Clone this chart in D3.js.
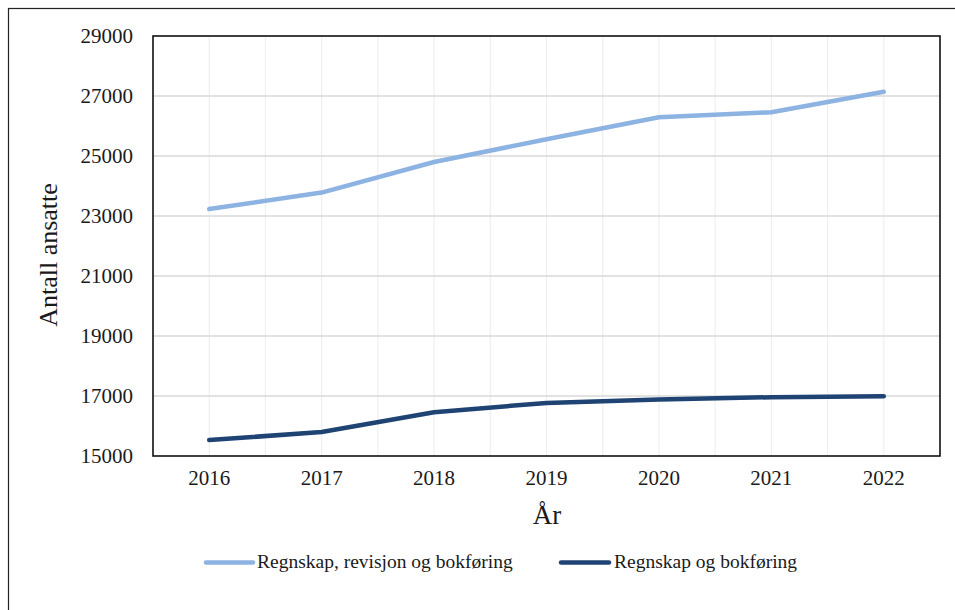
<!DOCTYPE html>
<html>
<head>
<meta charset="utf-8">
<script src="https://cdn.jsdelivr.net/npm/d3@7/dist/d3.min.js"></script>
<style>
  html, body { margin: 0; padding: 0; background: #fff; }
  svg { display: block; }
  svg text { font-family: 'Liberation Serif', 'Times New Roman', 'DejaVu Serif', serif !important; fill: #1a1a1a; }
</style>
</head>
<body>
<svg id="chart" width="955" height="610" font-family="'Liberation Serif', serif"></svg>
<script>
const years = ["2016", "2017", "2018", "2019", "2020", "2021", "2022"];
const seriesNames = ["Regnskap, revisjon og bokføring", "Regnskap og bokføring"];
const revisjonValues = [23230, 23780, 24800, 25560, 26290, 26460, 27140];
const bokforingValues = [15530, 15800, 16460, 16770, 16880, 16960, 16990];
const yTicks = [15000, 17000, 19000, 21000, 23000, 25000, 27000, 29000];
const colors = ["#8db3e2", "#1f4372"];

const FONT = "'Liberation Serif', 'Times New Roman', serif";
const svg = d3.select("#chart");
const W = 955, H = 610;
const plot = { left: 153, top: 36, right: 940, bottom: 456 };

// outer frame
svg.append("rect").attr("x", 8.5).attr("y", 8.5).attr("width", W).attr("height", H)
  .attr("fill", "none").attr("stroke", "#222").attr("stroke-width", 1.2);

const x = d3.scaleBand().domain(years).range([plot.left, plot.right]).padding(0);
const y = d3.scaleLinear().domain([15000, 29000]).range([plot.bottom, plot.top]);

// vertical grid lines: band edges and centers
const vgrid = [];
years.forEach((yr, i) => {
  if (i > 0) vgrid.push(x(yr));
  vgrid.push(x(yr) + x.bandwidth() / 2);
});
svg.append("g").selectAll("line").data(vgrid).join("line")
  .attr("x1", d => d).attr("x2", d => d)
  .attr("y1", plot.top).attr("y2", plot.bottom)
  .attr("stroke", "#efefef").attr("stroke-width", 1.2);

// horizontal grid
svg.append("g").selectAll("line").data(yTicks.slice(1, -1)).join("line")
  .attr("x1", plot.left).attr("x2", plot.right)
  .attr("y1", d => y(d)).attr("y2", d => y(d))
  .attr("stroke", "#d9d9d9").attr("stroke-width", 1.3);

// plot frame
svg.append("rect").attr("x", plot.left).attr("y", plot.top)
  .attr("width", plot.right - plot.left).attr("height", plot.bottom - plot.top)
  .attr("fill", "none").attr("stroke", "#111").attr("stroke-width", 1.6);

// y axis
const yAxis = d3.axisLeft(y).tickValues(yTicks).tickSize(0).tickPadding(20).tickFormat(d3.format("d"));
const gy = svg.append("g").attr("transform", `translate(${plot.left},0)`).call(yAxis)
  .attr("font-family", FONT).attr("font-size", 21);
gy.select(".domain").remove();
gy.selectAll("text").attr("fill", "#1a1a1a");

// x axis
const xAxis = d3.axisBottom(x).tickSize(0).tickPadding(14);
const gx = svg.append("g").attr("transform", `translate(0,${plot.bottom})`).call(xAxis)
  .attr("font-family", FONT).attr("font-size", 21);
gx.select(".domain").remove();
gx.selectAll("text").attr("fill", "#1a1a1a");

// lines
const line = d3.line().x((d, i) => x(years[i]) + x.bandwidth() / 2).y(d => y(d));
[revisjonValues, bokforingValues].forEach((vals, k) => {
  svg.append("path").datum(vals).attr("d", line)
    .attr("fill", "none").attr("stroke", colors[k]).attr("stroke-width", 4.5)
    .attr("stroke-linecap", "round").attr("stroke-linejoin", "round");
});

// axis titles
svg.append("text").attr("x", 547).attr("y", 524).attr("text-anchor", "middle")
  .attr("font-family", FONT).attr("font-size", 27).text("År");
svg.append("text").attr("transform", "translate(57,255) rotate(-90)").attr("text-anchor", "middle")
  .attr("font-family", FONT).attr("font-size", 26).text("Antall ansatte");

// legend
const legendItems = [
  { name: seriesNames[0], color: colors[0], x1: 206, x2: 253, tx: 257 },
  { name: seriesNames[1], color: colors[1], x1: 561, x2: 609, tx: 614 }
];
const lg = svg.append("g");
legendItems.forEach(it => {
  lg.append("line").attr("x1", it.x1).attr("x2", it.x2).attr("y1", 562.5).attr("y2", 562.5)
    .attr("stroke", it.color).attr("stroke-width", 4.5).attr("stroke-linecap", "round");
  lg.append("text").attr("x", it.tx).attr("y", 568)
    .attr("font-family", FONT).attr("font-size", 19.5).text(it.name);
});
</script>
</body>
</html>
